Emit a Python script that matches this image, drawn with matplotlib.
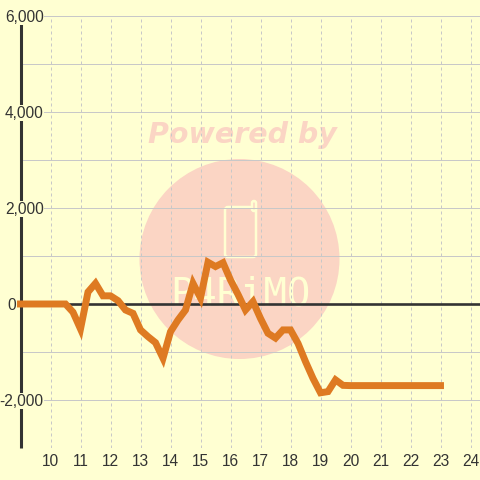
import matplotlib
matplotlib.use('Agg')
import matplotlib.pyplot as plt
from matplotlib.patches import Ellipse, FancyBboxPatch

# hours, readings every quarter hour
hours = [9, 9.25, 9.5, 9.75, 10, 10.25, 10.5, 10.75, 11, 11.25, 11.5, 11.75, 12, 12.25, 12.5, 12.75,
         13, 13.25, 13.5, 13.75, 14, 14.25, 14.5, 14.75, 15, 15.25, 15.5, 15.75, 16, 16.25, 16.5, 16.75,
         17, 17.25, 17.5, 17.75, 18, 18.25, 18.5, 18.75, 19, 19.25, 19.5, 19.75, 20, 21, 22, 23]
values = [0, 0, 0, 0, 0, 0, 0, -170, -520, 250, 430, 170, 170, 70, -125, -195,
          -540, -680, -805, -1130, -577, -333, -125, 430, 125, 870, 780, 860, 500, 200, -125, 50,
          -300, -610, -710, -540, -540, -820, -1200, -1550, -1850, -1825, -1580, -1695, -1700, -1700, -1700, -1700]

x_ticks = list(range(10, 25))
y_major = [-2000, 0, 2000, 4000, 6000]
y_minor = [-3000, -1000, 1000, 3000, 5000]

bg = '#FFFFD2'
grid = '#C8C8C8'
dark = '#333333'
wm = '#FBD5C4'

plt.rcParams['font.family'] = ['Liberation Sans', 'DejaVu Sans']

fig = plt.figure(figsize=(4.8, 4.8), dpi=100, facecolor=bg)
W = 480.0
# axes from x=20.5 to right edge, y=16 to 448 px
ax = fig.add_axes([20.5/W, (W-448)/W, (W-20.5)/W, 432/W], facecolor='none')
ax.set_xlim(9, 9 + (W-20.5)/30)
ax.set_ylim(-3000, 6000)
for s in ax.spines.values():
    s.set_visible(False)

# watermark, in pixel space of the figure
overlay = fig.add_axes([0, 0, 1, 1], zorder=-1)
overlay.set_xlim(0, 480)
overlay.set_ylim(480, 0)
overlay.axis('off')
overlay.add_patch(Ellipse((239.5, 259), 200, 200, fc=wm, ec='none'))
overlay.text(242, 135, 'Powered by', color=wm, fontsize=20.5, fontweight='bold', fontstyle='italic',
             family='DejaVu Sans', ha='center', va='center')
overlay.add_patch(FancyBboxPatch((225, 207), 31, 50, boxstyle='round,pad=0,rounding_size=3',
                                 fc='none', ec=bg, lw=1.8))
overlay.add_patch(FancyBboxPatch((252, 201), 4, 10, boxstyle='round,pad=0,rounding_size=2',
                                 fc=wm, ec=bg, lw=1.8))
overlay.text(240.5, 305, 'P4RiMO', color=bg, fontsize=28, ha='center', va='baseline',
             family='DejaVu Sans Mono')

for v in y_major + y_minor:
    ax.axhline(v, color=grid, lw=0.72, zorder=1)
for h in x_ticks:
    ax.axvline(h, color=grid, lw=0.72, ls=(0, (3, 3)), zorder=1)
ax.axhline(0, color=dark, lw=1.9, zorder=2)
ax.plot([9, 9], [-3000, 6000], color=dark, lw=2.2, solid_capstyle='butt', zorder=2, clip_on=False)

ax.plot(hours, values, color='#DE7A22', lw=5, solid_joinstyle='miter', solid_capstyle='projecting',
        zorder=6, clip_on=False)

ax.set_xticks([])
ax.set_yticks([])
for h in x_ticks:
    ax.annotate(str(h), (h, -3000), xytext=(0, -14), textcoords='offset pixels', ha='center', va='center',
                fontsize=11.2, color=dark, annotation_clip=False)
for v in y_major:
    # the zero label sits left of the axis line, the others straddle it on a background box
    if v == 0:
        ax.annotate('0', (9, v), xytext=(-4.5, -1), textcoords='offset pixels', ha='right', va='center',
                    fontsize=11.2, color=dark, annotation_clip=False, zorder=4)
    else:
        ax.annotate(f'{v:,}', (9, v), xytext=(23, -1), textcoords='offset pixels', ha='right', va='center',
                    fontsize=11.2, color=dark, annotation_clip=False, zorder=4,
                    bbox=dict(fc=bg, ec='none', pad=0.6))

fig.savefig('out.png', dpi=100, facecolor=bg)
